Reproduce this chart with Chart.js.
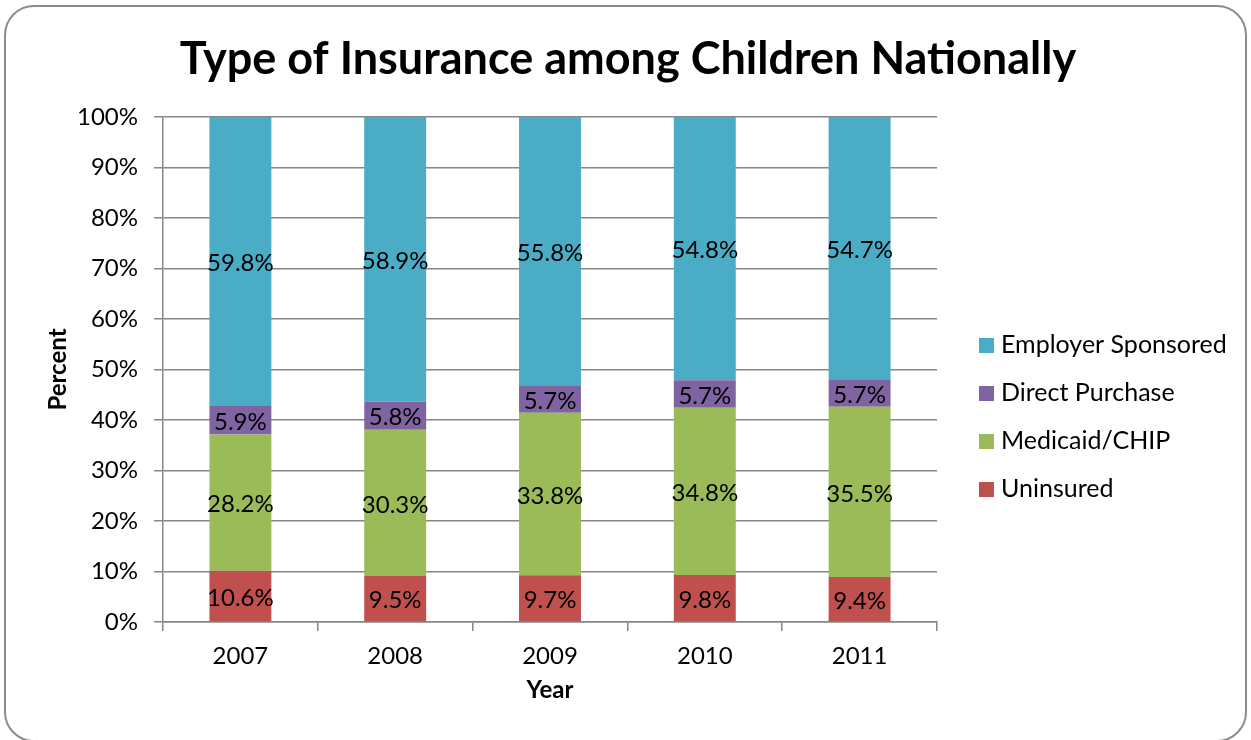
<!DOCTYPE html>
<html>
<head>
<meta charset="utf-8">
<script src="https://cdn.jsdelivr.net/npm/chart.js@4.4.1/dist/chart.umd.min.js"></script>
<style>
  html, body { margin: 0; padding: 0; background: #fff; }
  #wrap { position: relative; width: 1251px; height: 740px; overflow: hidden; }
  #frame { position: absolute; left: 4px; top: 5px; width: 1243px; height: 737px;
           border: 2px solid #8c8c8c; border-radius: 30px; box-sizing: border-box; pointer-events: none; }
  canvas { position: absolute; left: 0; top: 0; }
</style>
</head>
<body>
<div id="wrap">
  <canvas id="ch" width="1251" height="740"></canvas>
  <div id="frame"></div>
</div>
<script>
// ── Dados (em %) ──
const years        = ['2007', '2008', '2009', '2010', '2011'];
const uninsured    = [10.6, 9.5, 9.7, 9.8, 9.4];
const medicaidChip = [28.2, 30.3, 33.8, 34.8, 35.5];
const directPurch  = [5.9, 5.8, 5.7, 5.7, 5.7];
const employerSp   = [59.8, 58.9, 55.8, 54.8, 54.7];
const yTicks       = [0, 10, 20, 30, 40, 50, 60, 70, 80, 90, 100];

const FONT = "Lato, 'Open Sans', sans-serif";
const GRID = '#868686';
const TITLE = 'Type of Insurance among Children Nationally';

// empilhado 100%: cada ano é normalizado pela soma
const totals = years.map((_, i) => uninsured[i] + medicaidChip[i] + directPurch[i] + employerSp[i]);
const share = arr => arr.map((v, i) => v / totals[i] * 100);

const series = [
  ['Uninsured',          uninsured,    '#C0504D'],
  ['Medicaid/CHIP',      medicaidChip, '#9BBB59'],
  ['Direct Purchase',    directPurch,  '#8064A2'],
  ['Employer Sponsored', employerSp,   '#4BACC6'],
];

// ── rótulos dentro das barras ──
const insideLabels = {
  id: 'insideLabels',
  afterDatasetsDraw(chart) {
    const c = chart.ctx;
    c.save();
    c.font = '24px ' + FONT; c.fillStyle = '#000';
    c.textAlign = 'center'; c.textBaseline = 'middle';
    chart.data.datasets.forEach((ds, di) => {
      chart.getDatasetMeta(di).data.forEach((bar, i) => {
        const y = (bar.y + bar.base) / 2 + 2;
        c.fillText(ds.raw[i].toFixed(1) + '%', bar.x, y);
      });
    });
    c.restore();
  }
};

// ── título + legenda à direita (ordem invertida, como no original) ──
const titleAndLegend = {
  id: 'titleAndLegend',
  afterDraw(chart) {
    const c = chart.ctx;
    c.save();
    c.fillStyle = '#000';
    c.font = 'bold 45px ' + FONT;
    c.textAlign = 'center'; c.textBaseline = 'middle';
    c.fillText(TITLE, 628, 59);

    c.font = '25px ' + FONT;
    c.textAlign = 'left';
    const items = chart.data.datasets.slice().reverse();
    items.forEach((ds, k) => {
      const y = 345 + k * 48;
      c.fillStyle = ds.backgroundColor;
      c.fillRect(979, y - 7, 15, 15);
      c.fillStyle = '#000';
      c.fillText(ds.label, 1001, y);
    });
    c.restore();
  }
};

new Chart(document.getElementById('ch').getContext('2d'), {
  type: 'bar',
  data: {
    labels: years,
    datasets: series.map(s => ({
      label: s[0], data: share(s[1]), raw: s[1],
      backgroundColor: s[2], borderWidth: 0,
      barPercentage: 0.8, categoryPercentage: 0.5
    }))
  },
  plugins: [insideLabels, titleAndLegend],
  options: {
    responsive: false, animation: false,
    layout: { padding: { left: 0, right: 314, top: 117, bottom: 0 } },
    plugins: {
      legend: { display: false },
      tooltip: { enabled: false },
      title: { display: false }
    },
    scales: {
      x: {
        stacked: true,
        grid: { display: true, drawOnChartArea: false, offset: true, color: GRID, tickLength: 9, lineWidth: 1.5 },
        border: { display: true, color: GRID, width: 1.5 },
        ticks: { color: '#000', font: { family: FONT, size: 24 }, padding: 11 },
        title: { display: true, text: 'Year', color: '#000', font: { family: FONT, size: 24, weight: 'bold' }, padding: { top: 4, bottom: 35 } },
        afterFit: s => { s.height = 118; }
      },
      y: {
        stacked: true, min: 0, max: 100,
        afterBuildTicks: s => { s.ticks = yTicks.map(v => ({ value: v })); },
        grid: { color: GRID, tickLength: 9, lineWidth: 1.5 },
        border: { display: true, color: GRID, width: 1.5 },
        ticks: { color: '#000', font: { family: FONT, size: 24 }, padding: 16, callback: v => v + '%' },
        title: { display: true, text: 'Percent', color: '#000', font: { family: FONT, size: 24, weight: 'bold' }, padding: { top: 44, bottom: 0 } },
        afterFit: s => { s.width = 163; }
      }
    }
  }
});
</script>
</body>
</html>
